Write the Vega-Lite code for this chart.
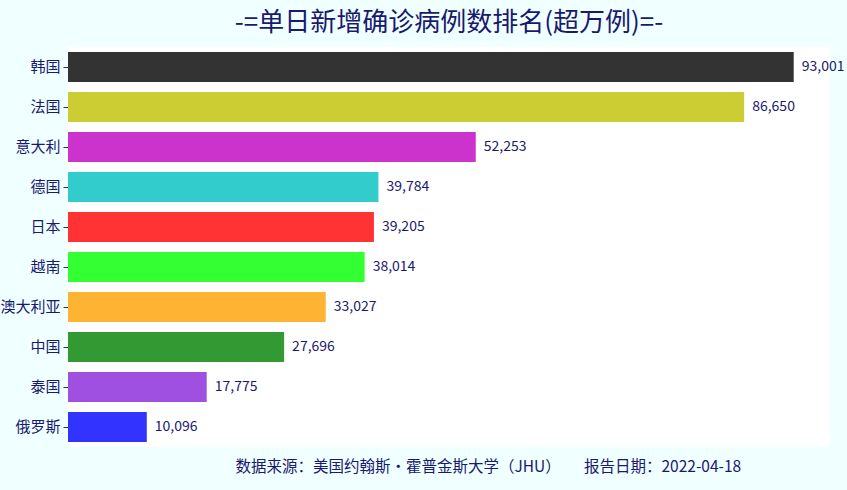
{
  "$schema": "https://vega.github.io/schema/vega-lite/v6.json",
  "width": 762,
  "height": 400,
  "autosize": {"type": "none"},
  "padding": {"left": 68, "top": 47, "right": 17, "bottom": 43},
  "background": "#f0ffff",
  "config": {
    "font": "Noto Sans CJK SC",
    "view": {"fill": "white", "stroke": null}
  },
  "title": {
    "text": "-=单日新增确诊病例数排名(超万例)=-",
    "fontSize": 26,
    "fontWeight": "normal",
    "color": "#191970",
    "anchor": "middle",
    "offset": 11,
    "font": "Noto Sans CJK SC"
  },
  "data": {
    "values": [
      {"country": "韩国", "cases": 93001, "color": "#333333"},
      {"country": "法国", "cases": 86650, "color": "#cccc33"},
      {"country": "意大利", "cases": 52253, "color": "#cc33cc"},
      {"country": "德国", "cases": 39784, "color": "#33cccc"},
      {"country": "日本", "cases": 39205, "color": "#ff3333"},
      {"country": "越南", "cases": 38014, "color": "#33ff33"},
      {"country": "澳大利亚", "cases": 33027, "color": "#ffb333"},
      {"country": "中国", "cases": 27696, "color": "#339933"},
      {"country": "泰国", "cases": 17775, "color": "#a050e0"},
      {"country": "俄罗斯", "cases": 10096, "color": "#3333ff"}
    ]
  },
  "encoding": {
    "y": {
      "field": "country",
      "type": "nominal",
      "sort": {"field": "cases", "order": "descending"},
      "scale": {"paddingInner": 0.25, "paddingOuter": 0.125},
      "axis": {
        "title": null,
        "domain": false,
        "ticks": true,
        "tickSize": 5,
        "tickColor": "#333333",
        "labelFontSize": 15,
        "labelColor": "#191970",
        "labelPadding": 3
      }
    },
    "x": {
      "field": "cases",
      "type": "quantitative",
      "scale": {"domain": [0, 97651], "nice": false},
      "axis": {
        "grid": false,
        "labels": false,
        "ticks": false,
        "domain": false,
        "title": "数据来源：美国约翰斯·霍普金斯大学（JHU）\u3000\u3000报告日期：2022-04-18",
        "titleFontSize": 15.5,
        "titleFontWeight": "normal",
        "titleColor": "#191970",
        "titlePadding": 12,
        "titleX": 167,
        "titleAlign": "left"
      }
    }
  },
  "layer": [
    {
      "mark": {"type": "bar"},
      "encoding": {
        "color": {"field": "color", "type": "nominal", "scale": null}
      }
    },
    {
      "mark": {"type": "text", "align": "left", "baseline": "middle", "dx": 8, "fontSize": 14, "color": "#191970"},
      "encoding": {
        "text": {"field": "cases", "type": "quantitative", "format": ",d"}
      }
    }
  ]
}
